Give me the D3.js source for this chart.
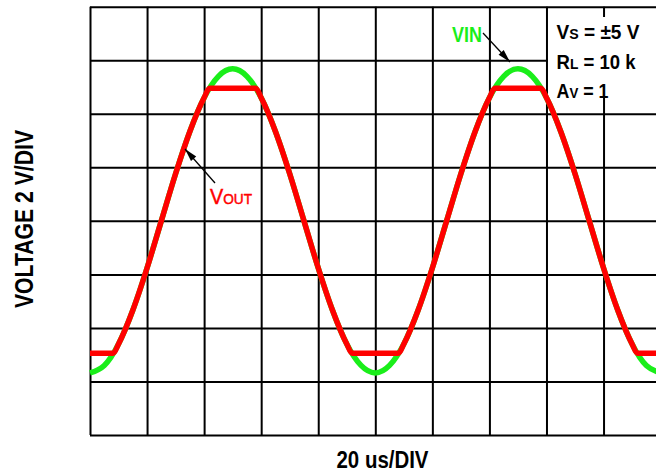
<!DOCTYPE html>
<html><head><meta charset="utf-8">
<script src="https://cdn.jsdelivr.net/npm/d3@7"></script>
<style>
html,body{margin:0;padding:0;background:#fff;overflow:hidden}
svg{display:block}
text{font-family:"Liberation Sans",Arial,sans-serif}
</style></head>
<body>
<svg id="c" width="656" height="474"></svg>
<script>
// time in microseconds, voltage in volts
const vinTime = [0,5,10,15,20,25,30,35,40,45,50,55,60,65,70,75,80,85,90,95,100,105,110,115,120,125,130,135,140,145,150,155,160,165,170,175,180,185,190,195,200];
const vinValues = [-5.68,-5.40,-4.60,-3.34,-1.76,0,1.76,3.34,4.60,5.40,5.68,5.40,4.60,3.34,1.76,0,-1.76,-3.34,-4.60,-5.40,-5.68,-5.40,-4.60,-3.34,-1.76,0,1.76,3.34,4.60,5.40,5.68,5.40,4.60,3.34,1.76,0,-1.76,-3.34,-4.60,-5.40,-5.68];
const voutTime = [0,5,8.1,10,15,20,25,30,35,40,41.9,45,50,55,58.1,60,65,70,75,80,85,90,91.9,95,100,105,108.1,110,115,120,125,130,135,140,141.9,145,150,155,158.1,160,165,170,175,180,185,190,191.9,195,200];
const voutValues = [-4.95,-4.95,-4.95,-4.60,-3.34,-1.76,0,1.76,3.34,4.60,4.95,4.95,4.95,4.95,4.95,4.60,3.34,1.76,0,-1.76,-3.34,-4.60,-4.95,-4.95,-4.95,-4.95,-4.95,-4.60,-3.34,-1.76,0,1.76,3.34,4.60,4.95,4.95,4.95,4.95,4.95,4.60,3.34,1.76,0,-1.76,-3.34,-4.60,-4.95,-4.95,-4.95];
const xTicks = [0,20,40,60,80,100,120,140,160,180,200];   // 20 us/div
const yTicks = [-8,-6,-4,-2,0,2,4,6,8];                    // 2 V/div
const xLabel = "20 us/DIV";
const yLabel = "VOLTAGE 2 V/DIV";
const condLines = [["V","S"," = \u00b15 V"],["R","L"," = 10 k"],["A","V"," = 1"]];

const svg = d3.select("#c");
const L = 90, R = 660.6, T = 6.7, B = 435;
const x = d3.scaleLinear().domain([0,200]).range([L,R]);
const y = d3.scaleLinear().domain([-8,8]).range([B,T]);

// grid via axes
const gx = svg.append("g").attr("transform",`translate(0,${B})`)
  .call(d3.axisBottom(x).tickValues(xTicks).tickSize(-(B-T)).tickFormat(""));
const gy = svg.append("g").attr("transform",`translate(${L},0)`)
  .call(d3.axisLeft(y).tickValues(yTicks).tickSize(-(R-L)).tickFormat(""));
[gx,gy].forEach(g=>{
  g.select(".domain").remove();
  g.selectAll("line").attr("stroke","#000").attr("stroke-width",2);
});

// conditions text box (white background)
svg.append("rect").attr("x",548).attr("y",17).attr("width",120).attr("height",81).attr("fill","#fff");
const baseY = [39,68.5,97.5];
const widths = [83,79,52];
condLines.forEach((p,i)=>{
  const t = svg.append("text").attr("x",556.5).attr("y",baseY[i])
    .attr("font-weight","bold").attr("font-size",19.5).attr("fill","#000")
    .attr("textLength",widths[i]).attr("lengthAdjust","spacingAndGlyphs");
  t.append("tspan").text(p[0]);
  t.append("tspan").attr("font-size",14.5).text(p[1]);
  t.append("tspan").text(p[2]);
});

// traces
const lineVin = d3.line().x((d,i)=>x(vinTime[i])).y(d=>y(d)).curve(d3.curveNatural);
const lineVout = d3.line().x((d,i)=>x(voutTime[i])).y(d=>y(d)).curve(d3.curveMonotoneX);
svg.append("path").attr("d",lineVin(vinValues)).attr("fill","none")
  .attr("stroke","#1aee1a").attr("stroke-width",5.5);
svg.append("path").attr("d",lineVout(voutValues)).attr("fill","none")
  .attr("stroke","#ff0000").attr("stroke-width",5.5);

// arrows
function arrow(x1,y1,x2,y2){
  svg.append("line").attr("x1",x1).attr("y1",y1).attr("x2",x2).attr("y2",y2)
    .attr("stroke","#000").attr("stroke-width",1.3);
  const a = Math.atan2(y2-y1,x2-x1), len=13, w=3.5;
  const bx = x2-len*Math.cos(a), by = y2-len*Math.sin(a);
  const px = -Math.sin(a)*w, py = Math.cos(a)*w;
  svg.append("path").attr("d",`M${x2},${y2}L${bx+px},${by+py}L${bx-px},${by-py}Z`).attr("fill","#000");
}
arrow(483,33,510,62);
arrow(215,183,185,149);

// labels
svg.append("text").attr("x",452).attr("y",41.5).attr("font-weight","bold").attr("font-size",22)
  .attr("fill","#1aee1a").attr("textLength",30).attr("lengthAdjust","spacingAndGlyphs").text("VIN");
const vo = svg.append("text").attr("x",210).attr("y",204).attr("font-size",22.5).attr("fill","#ff0000")
  .attr("stroke","#ff0000").attr("stroke-width",0.5)
  .attr("textLength",42).attr("lengthAdjust","spacingAndGlyphs");
vo.append("tspan").text("V");
vo.append("tspan").attr("font-size",15.5).text("OUT");

svg.append("text").attr("x",382.5).attr("y",468).attr("text-anchor","middle")
  .attr("font-weight","bold").attr("font-size",23).attr("textLength",92)
  .attr("lengthAdjust","spacingAndGlyphs").text(xLabel);
svg.append("text").attr("transform","translate(33,219) rotate(-90)").attr("text-anchor","middle")
  .attr("font-weight","bold").attr("font-size",25).attr("textLength",178)
  .attr("lengthAdjust","spacingAndGlyphs").text(yLabel);
</script>
</body></html>
